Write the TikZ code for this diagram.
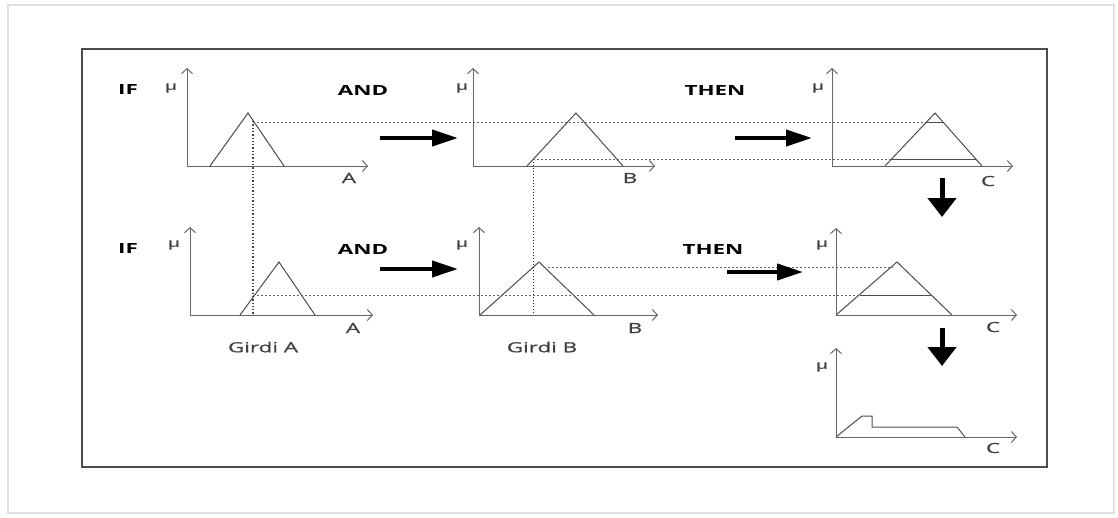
\documentclass[tikz,border=0pt]{standalone}
\usepackage{fontspec}
\setmainfont{Open Sans}[FakeStretch=1.6]
\newfontfamily\labelfont{Open Sans}[FakeStretch=1.6, FakeBold=0.6]
\usetikzlibrary{arrows.meta}
\tikzset{
  axis/.style={draw=black!60, line width=1pt, {Straight Barb[length=5pt,width=11pt]}-{Straight Barb[length=5pt,width=11pt]}},
  mf/.style={draw=black!70, line width=1pt},
  guide/.style={draw=black!60, dash pattern=on 2pt off 2pt, line width=0.9pt},
  drop/.style={draw=black!75, dotted, line width=1.3pt},
  flow/.style={line width=4pt, -{Triangle[length=26pt,width=16pt]}},
  sink/.style={line width=5pt, -{Triangle[length=19pt,width=28pt]}},
  word/.style={inner sep=0pt, font=\bfseries\fontsize{14}{16}\selectfont},
  tick/.style={inner sep=0pt, text=black!75, font=\labelfont\fontsize{14}{16}\selectfont},
  mu/.style={inner sep=0pt, text=black!75, font=\labelfont\fontsize{12}{14}\selectfont},
}
\begin{document}
\begin{tikzpicture}[x=1pt,y=-1pt]
	\useasboundingbox (0,0) rectangle (1118,517);
	\draw[black!12, line width=1.5pt] (8,5) rectangle (1114,513);
	\draw[black!70, line width=1.2pt] (82,49) rectangle (1047,467);
	% axes of the seven panels
	\foreach \ox/\oy/\xe/\yt in {187/166/368/68, 473/166/655/68, 832/166/1013/68,
	    190/315/373/227, 479/315/658/227, 836/315/1017/228, 836/437/1017/348}
	  \draw[axis] (\ox,\yt) -- (\ox,\oy) -- (\xe,\oy);
	\foreach \x/\y [count=\i] in {171/88, 462/88, 818/88, 174/245, 462/245, 822/245, 822/367}
	  \node[mu] (mu\i) at (\x,\y) {μ};
	\foreach \x/\y/\t [count=\i] in {349/178/A, 630/178/B, 988/181/C, 353/328/A, 635/328/B, 993/327/C, 993/448/C}
	  \node[tick] (var\i) at (\x,\y) {\t};
	% membership functions
	\draw[mf] (210,166) -- (248,113) -- (284,166);
	\draw[mf] (527,166) -- (576,113) -- (623,166);
	\draw[mf] (885,166) -- (935,113) -- (982,166);
	\draw[mf] (926,122) -- (943,122) (891,159) -- (976,159);
	\draw[mf] (240,315) -- (279,262) -- (315,315);
	\draw[mf] (480,315) -- (539,262) -- (594,315);
	\draw[mf] (836,315) -- (897,262) -- (952,315);
	\draw[mf] (860,295) -- (931,295);
	\draw[mf] (836,437) -- (862,416) -- (872,416) -- (872,427) -- (957,427) -- (965,437);
	% input values and cut levels
	\draw[drop] (253,121) -- (253,315);
	\draw[drop, black!85, line width=1pt] (533,159) -- (533,315);
	\draw[guide] (253,122) -- (926,122);
	\draw[guide] (533,159) -- (891,159);
	\draw[guide] (253,295) -- (860,295);
	\draw[guide] (544,267) -- (893,267);
	% rule words
	\node[word] (if1) at (128,89) {IF};
	\node[word] (and1) at (363,90) {AND};
	\node[word] (then1) at (715,90) {THEN};
	\node[word] (if2) at (128,248) {IF};
	\node[word] (and2) at (363,249) {AND};
	\node[word] (then2) at (713,249) {THEN};
	\node[tick] (inA) at (263,347) {Girdi A};
	\node[tick] (inB) at (542,347) {Girdi B};
	% flow arrows
	\coordinate (f1s) at (380,138); \coordinate (f1e) at (458,138);
	\coordinate (f2s) at (735,138); \coordinate (f2e) at (812,138);
	\coordinate (f3s) at (380,269); \coordinate (f3e) at (458,269);
	\coordinate (f4s) at (727,272); \coordinate (f4e) at (803,272);
	\coordinate (d1s) at (942,178); \coordinate (d1e) at (942,217);
	\coordinate (d2s) at (942,328); \coordinate (d2e) at (942,366);
	\draw[flow] (f1s) -- (f1e);
	\draw[flow] (f2s) -- (f2e);
	\draw[flow] (f3s) -- (f3e);
	\draw[flow] (f4s) -- (f4e);
	\draw[sink] (d1s) -- (d1e);
	\draw[sink] (d2s) -- (d2e);
\end{tikzpicture}
\end{document}
